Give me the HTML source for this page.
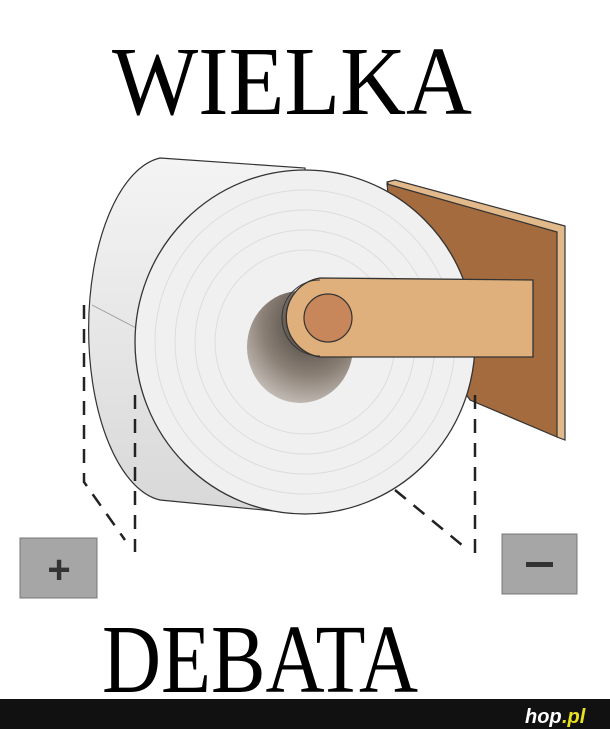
<!DOCTYPE html>
<html><head><meta charset="utf-8"><style>
html,body{margin:0;padding:0;background:#fff;width:610px;height:729px;overflow:hidden}
</style></head><body>
<svg width="610" height="729" viewBox="0 0 610 729" xmlns="http://www.w3.org/2000/svg">
<defs>
<radialGradient id="hole" cx="0.6" cy="0.3" r="0.9">
<stop offset="0" stop-color="#3f3a35"/><stop offset="0.5" stop-color="#8a7f75"/><stop offset="1" stop-color="#e6e2de"/>
</radialGradient>
<linearGradient id="side" x1="0" y1="0" x2="0" y2="1">
<stop offset="0" stop-color="#f4f4f4"/><stop offset="1" stop-color="#d8d8d8"/>
</linearGradient>
</defs>
<rect width="610" height="729" fill="#fff"/>
<text x="292" y="114" text-anchor="middle" font-family="Liberation Serif, serif" font-size="98" textLength="360" lengthAdjust="spacingAndGlyphs">WIELKA</text>
<text x="260" y="692" text-anchor="middle" font-family="Liberation Serif, serif" font-size="98" textLength="316" lengthAdjust="spacingAndGlyphs">DEBATA</text>
<!-- plate -->
<polygon points="387,182 395,180 565,226 565,440 557,437" fill="#e2b98a" stroke="#333" stroke-width="1.2"/>
<polygon points="387,184 557,232 557,437 470,400 400,300" fill="#a36b3e" stroke="#333" stroke-width="1.2"/>
<!-- back roll -->
<path d="M160,158 L305,168 L305,514 L160,500 A80,172 0 0 1 160,158 Z" fill="url(#side)" stroke="#333" stroke-width="1.2"/>
<line x1="92" y1="305" x2="140" y2="330" stroke="#999" stroke-width="0.8"/>
<!-- front face -->
<ellipse cx="305" cy="342" rx="170" ry="172" fill="#f0f0f0" stroke="#333" stroke-width="1.3"/>
<g fill="none" stroke="#ddd" stroke-width="1">
<ellipse cx="305" cy="342" rx="150" ry="152"/><ellipse cx="305" cy="342" rx="130" ry="132"/><ellipse cx="305" cy="342" rx="110" ry="112"/><ellipse cx="305" cy="342" rx="90" ry="92"/>
</g>
<ellipse cx="300" cy="347" rx="53" ry="56" fill="url(#hole)"/>
<!-- arm -->
<path d="M320,278 L533,280 L533,357 L320,357 A40,40 0 0 1 320,278 Z" fill="#e0b07c" stroke="#333" stroke-width="1.3"/>
<path d="M320,280 A38,38 0 0 0 320,356" fill="none" stroke="#333" stroke-width="1"/>
<circle cx="328" cy="318" r="24" fill="#c8875a" stroke="#333" stroke-width="1.2"/>
<!-- dashes -->
<g fill="none" stroke="#222" stroke-width="2.5" stroke-dasharray="14,10">
<polyline points="84,305 84,482 125,540"/>
<line x1="135" y1="395" x2="135" y2="552"/>
<line x1="475" y1="395" x2="475" y2="556"/>
<line x1="395" y1="490" x2="468" y2="550"/>
</g>
<rect x="20" y="538" width="77" height="60" fill="#a6a6a6" stroke="#777" stroke-width="1"/>
<text x="59" y="583" text-anchor="middle" font-family="Liberation Sans, sans-serif" font-size="40" font-weight="bold" fill="#333">+</text>
<rect x="502" y="534" width="75" height="60" fill="#a6a6a6" stroke="#777" stroke-width="1"/>
<rect x="526" y="562" width="27" height="5" fill="#333"/>
<rect x="0" y="699" width="610" height="30" fill="#111"/>
<text x="525" y="723" font-family="Liberation Sans, sans-serif" font-size="20" font-weight="bold" font-style="italic" fill="#fff">hop</text>
<text x="562" y="723" font-family="Liberation Sans, sans-serif" font-size="20" font-weight="bold" font-style="italic" fill="#e8e020">.pl</text>
</svg>
</body></html>
